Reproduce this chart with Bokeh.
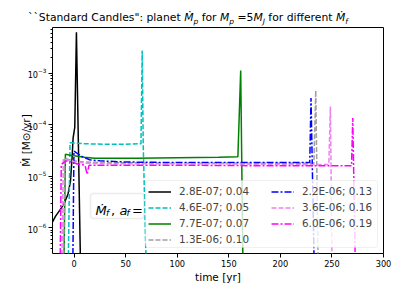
from bokeh.plotting import figure
from bokeh.layouts import column
from bokeh.models import (Range1d, FixedTicker, LogTicker, Legend, LegendItem, Label,
                          BoxAnnotation, Div)
from bokeh.embed import file_html
from bokeh.resources import INLINE

# ---------------- data ----------------
black_t = [-22, -18, -14, -10, -6, -3.6, -2, -1, 0.6, 2.2, 6.0]
black_v = [1.2e-6, 1.7e-6, 2.2e-6, 2.9e-6, 4.5e-6, 8e-6, 2.3e-5, 5.6e-5, 8.9e-5, 6.2e-3, 3e-7]

cyan_t = [-5.6, -4.0, 10, 30, 50, 64.8, 66.0, 67.0, 69.6]
cyan_v = [3e-7, 4.5e-5, 4.3e-5, 4.2e-5, 4.2e-5, 4.3e-5, 2.75e-3, 4.0e-5, 3e-7]

green_t = [-9.8, -8.5, -5, 0, 10, 20, 60, 100, 140, 158.8, 161.5, 163.6]
green_v = [3e-7, 2.7e-5, 2.6e-5, 2.5e-5, 2.35e-5, 2.25e-5, 2.25e-5, 2.3e-5, 2.35e-5, 2.4e-5, 1.13e-3, 3e-7]

gray_t = [-10.2, -9, -5, 0, 10, 30, 100, 200, 232.5, 234.3, 236.5]
gray_v = [3e-7, 2.3e-5, 2.1e-5, 2.0e-5, 1.9e-5, 1.85e-5, 1.8e-5, 1.8e-5, 1.8e-5, 4.6e-4, 3e-7]

blue_t = [-1.2, -0.2, 3, 8, 15, 25, 50, 100, 200, 228.5, 229.7, 232.6]
blue_v = [3e-7, 3.1e-5, 2.8e-5, 2.4e-5, 2.1e-5, 2.0e-5, 1.9e-5, 1.85e-5, 1.85e-5, 1.85e-5, 3.3e-4, 3e-7]

violet_t = [-11.8, -10.5, -5, 0, 10, 50, 150, 200, 247, 248.5, 250]
violet_v = [3e-7, 2.2e-5, 2.05e-5, 1.95e-5, 1.8e-5, 1.75e-5, 1.75e-5, 1.7e-5, 1.7e-5, 2.26e-4, 3e-7]

magenta_t = [-13.5, -12.5, -8, -3, 5, 10.5, 12.6, 14.5, 30, 100, 200, 269, 270.2, 272.5]
magenta_v = [3e-7, 1.7e-5, 2.0e-5, 1.9e-5, 1.7e-5, 1.65e-5, 1.1e-5, 1.65e-5, 1.65e-5, 1.65e-5, 1.6e-5, 1.6e-5, 1.36e-4, 3e-7]

labels = ["2.8E-07; 0.04", "4.6E-07; 0.05", "7.7E-07; 0.07", "1.3E-06; 0.10",
          "2.2E-06; 0.13", "3.6E-06; 0.16", "6.0E-06; 0.19"]
x_ticks = [0, 50, 100, 150, 200, 250, 300]

series = [
    (black_t, black_v, "black", "solid"),
    (cyan_t, cyan_v, "#00bfbf", "5 2"),
    (green_t, green_v, "#008000", "solid"),
    (gray_t, gray_v, "#a0a0a0", "5 2"),
    (blue_t, blue_v, "#0000ff", "7 2 2 2"),
    (violet_t, violet_v, "#ee82ee", "5 2"),
    (magenta_t, magenta_v, "#ff00ff", "7 2 2 2"),
]

FONT = "DejaVu Sans"

# ---------------- title (HTML, for italics and subscripts) ----------------
SUB = '<sub style="font-size:7.5px; vertical-align:-2.5px; line-height:0;">'
title_html = ('<div style="text-align:center; padding-left:28px; padding-top:3px; white-space:nowrap; '
              'font-family:\'DejaVu Sans\'; font-size:10.8px; line-height:20px; color:black;">'
              '``Standard Candles": planet <i>Ṁ' + SUB + 'p</sub></i> for <i>M' + SUB + 'p</sub></i>'
              ' =5<i>M' + SUB + 'J</sub></i> for different <i>Ṁ' + SUB + 'f</sub></i></div>')
title_div = Div(text=title_html, width=407, height=22, margin=(5, 0, 0, 0))

p = figure(frame_width=331, frame_height=226, y_axis_type="log",
           x_range=Range1d(-21, 300), y_range=Range1d(3.2e-7, 7.7e-3),
           output_backend="svg", toolbar_location=None, title=None,
           min_border_left=52, min_border_top=0, min_border_right=24, min_border_bottom=38)
p.background_fill_color = "white"
p.border_fill_color = "white"
p.outline_line_color = "black"
p.outline_line_width = 1
p.grid.visible = False

renderers = []
for t, v, c, d in series:
    r = p.line(t, v, line_color=c, line_width=1.5, line_dash=d)
    renderers.append(r)

# axes
xa = p.xaxis[0]
xa.ticker = FixedTicker(ticks=x_ticks)
xa.axis_label = "time [yr]"
ya = p.yaxis[0]
ya.ticker = LogTicker(num_minor_ticks=10)
ya.axis_label = "Ṁ [M⊙/yr]"
for ax in (xa, ya):
    ax.axis_line_color = None
    ax.major_tick_out = 4
    ax.major_tick_in = 0
    ax.minor_tick_out = 2
    ax.minor_tick_in = 0
    ax.major_tick_line_color = "black"
    ax.minor_tick_line_color = "black"
    ax.major_label_text_font = FONT
    ax.major_label_text_font_size = "8.2px"
    ax.major_label_text_color = "black"
    ax.axis_label_text_font = FONT
    ax.axis_label_text_font_size = "10.5px"
    ax.axis_label_text_font_style = "normal"
    ax.axis_label_text_color = "black"
    ax.major_label_standoff = 2
xa.minor_tick_line_color = None
xa.axis_label_standoff = 1
ya.axis_label_standoff = -7

# legend frame (one box for both columns)
p.add_layout(BoxAnnotation(left=93, right=325, bottom=6, top=73,
                           left_units="screen", right_units="screen",
                           bottom_units="screen", top_units="screen",
                           fill_color="white", fill_alpha=0.8,
                           line_color="#cccccc", line_width=1, border_radius=3))

# legend-title box  "Ṁf, af ="
p.add_layout(BoxAnnotation(left=38, right=91.5, bottom=35, top=60,
                           left_units="screen", right_units="screen",
                           bottom_units="screen", top_units="screen",
                           fill_color="white", fill_alpha=0.8,
                           line_color="#c0c0c0", line_width=1.5, border_radius=3))

def make_legend(idx, loc):
    lg = Legend(items=[LegendItem(label=labels[i], renderers=[renderers[i]]) for i in idx],
                location=loc, orientation="vertical",
                label_text_font=FONT, label_text_font_size="10.4px",
                glyph_width=23, glyph_height=13, label_height=13,
                label_standoff=8, spacing=3, padding=0, margin=0,
                border_line_color=None, background_fill_alpha=0)
    p.add_layout(lg)

make_legend([0, 1, 2, 3], (96, 7.5))
make_legend([4, 5, 6], (219, 23.5))

def lab(x, y, text, size, style="normal"):
    p.add_layout(Label(x=x, y=y, x_units="screen", y_units="screen", text=text,
                       text_font=FONT, text_font_size=size, text_font_style=style,
                       text_color="black", text_baseline="alphabetic", text_align="left"))

lab(43, 43.5, "Ṁ", "13px", "italic")
lab(53.5, 41, "f", "9px", "italic")
lab(58.5, 43.5, ",", "13px")
lab(67, 43.5, "a", "13px", "italic")
lab(74, 41, "f", "9px", "italic")
lab(79.5, 43.5, "=", "13px")

layout = column(title_div, p, spacing=0)
open("out.html", "w").write(file_html(layout, INLINE))
